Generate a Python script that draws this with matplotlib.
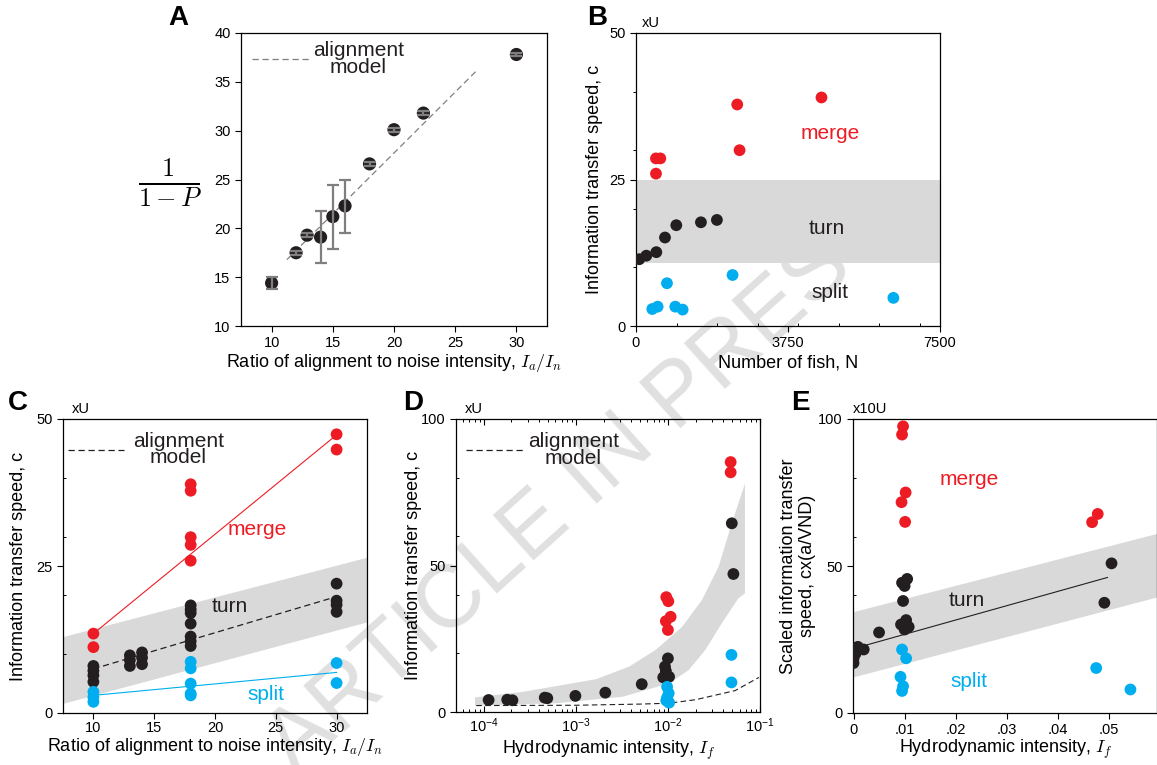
import numpy as np
import matplotlib
matplotlib.use("Agg")
import matplotlib.pyplot as plt
from matplotlib.ticker import FixedLocator, FixedFormatter, LogLocator, NullFormatter

plt.rcParams['font.family'] = ['Liberation Sans', 'DejaVu Sans']
plt.rcParams['mathtext.fontset'] = 'cm'
plt.rcParams['axes.linewidth'] = 0.9

RED = '#ed1c24'
BLUE = '#00aeef'
BLACK = '#231f20'
BAND = '#d9d9d9'
GREY = '#7f7f7f'

# ---------------- data ----------------
# A : 1/(1-P) vs Ia/In
a_x = [10, 12, 12.9, 14, 15, 16, 18, 20, 22.4, 30]
a_y = [14.4, 17.5, 19.3, 19.1, 21.2, 22.3, 26.6, 30.1, 31.8, 37.8]
a_err_lo = [0.6, 0.2, 0.2, 2.6, 3.3, 2.8, 0.2, 0.2, 0.2, 0.2]
a_err_hi = [0.6, 0.2, 0.2, 2.7, 3.2, 2.7, 0.2, 0.2, 0.2, 0.2]
a_model_x = [11.25, 26.8]
a_model_y = [16.8, 36.2]

# B : speed vs number of fish
b_merge_x = [493, 600, 493, 2497, 2555, 4576]
b_merge_y = [28.6, 28.6, 26.0, 37.8, 30.0, 39.0]
b_turn_x = [82, 255, 501, 715, 994, 1602, 1996]
b_turn_y = [11.4, 12.0, 12.6, 15.1, 17.2, 17.7, 18.1]
b_split_x = [764, 402, 534, 969, 1150, 2382, 6350]
b_split_y = [7.3, 2.9, 3.3, 3.3, 2.8, 8.7, 4.8]
b_band = [10.8, 24.9]

# C : speed vs Ia/In
c_merge_x = [10, 10, 18, 18, 18, 18, 18, 30, 30]
c_merge_y = [13.5, 11.2, 38.9, 37.8, 29.9, 28.6, 25.9, 47.4, 44.8]
c_turn_x = [10, 10, 10, 10, 13, 13, 13, 14, 14, 14,
            18, 18, 18, 18, 18, 18, 18, 30, 30, 30, 30]
c_turn_y = [8.0, 7.2, 6.4, 5.3, 9.8, 9.0, 8.0, 10.3, 9.4, 8.3,
            18.3, 17.6, 17.0, 15.2, 13.0, 12.2, 11.4, 22.0, 19.1, 18.4, 17.2]
c_split_x = [10, 10, 10, 18, 18, 18, 18, 18, 30, 30]
c_split_y = [3.6, 2.7, 1.9, 8.7, 7.6, 5.0, 3.3, 3.0, 8.5, 5.1]
c_merge_fit = ([10, 30], [13.5, 47.3])
c_split_fit = ([10, 30], [3.0, 6.9])
c_model = ([10, 30], [7.5, 19.8])
c_band_x = [7.5, 32.5]
c_band_lo = [1.65, 15.5]
c_band_hi = [13.0, 26.5]

# D : speed vs hydrodynamic intensity (log)
d_merge_x = [0.048, 0.048, 0.0096, 0.0101, 0.0107, 0.0095, 0.0100]
d_merge_y = [85.3, 81.8, 39.2, 37.8, 32.5, 31.0, 28.0]
d_turn_x = [1.13e-4, 1.8e-4, 2.05e-4, 4.6e-4, 4.9e-4, 9.9e-4, 2.09e-3, 5.2e-3,
            0.0100, 0.0093, 0.0095, 0.0089, 0.0103, 0.0494, 0.0514]
d_turn_y = [4.1, 4.2, 4.0, 4.9, 4.7, 5.5, 6.6, 9.5,
            18.3, 15.5, 14.0, 11.8, 12.0, 64.4, 47.1]
d_split_x = [0.0098, 0.0102, 0.0098, 0.0103, 0.0096, 0.049, 0.049]
d_split_y = [8.6, 6.4, 4.9, 3.2, 3.9, 19.5, 10.1]
d_band_hi_x = [8.05e-5, 2.7e-4, 1.66e-3, 3.8e-3, 7.37e-3, 1.43e-2, 2.34e-2, 3.55e-2, 4.94e-2, 6.87e-2]
d_band_hi_y = [5.0, 6.9, 11.2, 15.5, 21.2, 29.1, 38.2, 49.6, 64.4, 78.0]
d_band_lo_x = [8.05e-5, 6.17e-4, 3.23e-3, 1.03e-2, 1.68e-2, 2.55e-2, 3.85e-2, 5.82e-2, 6.87e-2]
d_band_lo_y = [2.2, 3.0, 5.2, 9.8, 14.3, 21.2, 30.3, 38.8, 40.5]
d_model_x = [8.3e-5, 1e-3, 5e-3, 1.03e-2, 2e-2, 5.37e-2, 0.0973]
d_model_y = [2.2, 2.3, 2.7, 3.0, 4.2, 7.3, 11.8]

# E : scaled speed vs hydrodynamic intensity
e_merge_x = [0.0097, 0.0095, 0.0102, 0.0094, 0.0101, 0.0478, 0.0467]
e_merge_y = [97.5, 94.7, 75.0, 71.7, 65.0, 67.7, 64.9]
e_turn_x = [0.0505, 0.0491, 0.0095, 0.0105, 0.0100, 0.0097, 0.0103, 0.0093, 0.0108,
            0.0100, 0.0050, 0.00085, 0.0020, 0.0004, 0.0000, 0.0000]
e_turn_y = [50.9, 37.5, 44.3, 45.6, 43.2, 38.1, 31.6, 30.1, 29.3,
            28.4, 27.4, 22.5, 21.6, 20.2, 18.5, 17.0]
e_split_x = [0.0095, 0.0103, 0.0092, 0.0097, 0.0095, 0.0475, 0.0542]
e_split_y = [21.6, 18.6, 12.3, 9.1, 7.5, 15.3, 8.0]
e_fit = ([0.0025, 0.0497], [23.1, 46.1])
e_band_x = [0.0, 0.0594]
e_band_lo = [12.3, 39.5]
e_band_hi = [34.5, 61.1]
e_xticks = [0, 0.01, 0.02, 0.03, 0.04, 0.05]
e_xticklabels = ['0', '.01', '.02', '.03', '.04', '.05']

# ---------------- figure ----------------
fig = plt.figure(figsize=(11.57, 7.65), dpi=100)

# watermark
fig.text(0.484, 0.339, 'ARTICLE IN PRES', rotation=42, fontsize=64,
         color='#e0e0e0', ha='center', va='center', zorder=-1)

W, H = 1157.0, 765.0


def make_ax(left, right, top, bottom):
    ax = fig.add_axes([left / W, (H - bottom) / H, (right - left) / W, (bottom - top) / H])
    ax.set_facecolor('none')
    ax.tick_params(labelsize=10.5, length=4, width=0.8, colors='black')
    ax.tick_params(which='minor', length=2.5, width=0.7)
    return ax


def labels(ax, xlabel, xl_y, ylabel=None, yl_x=None):
    # positions are label centres in axes fractions
    ax.set_xlabel(xlabel, fontsize=TF)
    ax.xaxis.label.set_va('center')
    ax.xaxis.set_label_coords(0.5, xl_y)
    if ylabel is not None:
        ax.set_ylabel(ylabel, fontsize=TF, linespacing=1.15)
        ax.yaxis.label.set_va('center')
        ax.yaxis.set_label_coords(yl_x, 0.5)


def dots(ax, x, y, color, s=72):
    ax.scatter(x, y, s=s, color=color, edgecolors='none', zorder=4)


def legend_model(ax, x0, x1, y, xt, color):
    ax.plot([x0, x1], [y, y], color=color, lw=0.9, dashes=(5, 3))
    ax.text(xt, y, 'alignment\nmodel', fontsize=15, ha='center', va='center',
            linespacing=0.85, color=BLACK)


TF = 13  # axis label size
AF = 15  # annotation size

# ---- A ----
axA = make_ax(241, 547, 33, 326)
axA.scatter(a_x, a_y, s=90, color=BLACK, edgecolors='none', zorder=3)
axA.errorbar(a_x, a_y, yerr=[a_err_lo, a_err_hi], fmt='none', ecolor=GREY,
             elinewidth=1.6, capsize=4, capthick=1.6, zorder=4)
axA.plot(a_model_x, a_model_y, color=GREY, lw=0.9, dashes=(5, 3), zorder=2)
legend_model(axA, 8.4, 13.15, 37.3, 17.1, GREY)
axA.set_xlim(7.5, 32.5)
axA.set_ylim(10, 40)
axA.set_xticks([10, 15, 20, 25, 30])
axA.set_yticks([10, 15, 20, 25, 30, 35, 40])
labels(axA, r'Ratio of alignment to noise intensity, $I_a/I_n$', -0.125)
axA.text(-0.232, 0.49, r'$\frac{1}{1-P}$', transform=axA.transAxes, fontsize=27,
         ha='center', va='center')
fig.text(178 / W, 1 - 18 / H, 'A', fontsize=20, fontweight='bold', ha='center', va='center')

# ---- B ----
axB = make_ax(636, 940, 33, 326)
axB.axhspan(b_band[0], b_band[1], color=BAND, lw=0, zorder=1)
dots(axB, b_merge_x, b_merge_y, RED)
dots(axB, b_turn_x, b_turn_y, BLACK)
dots(axB, b_split_x, b_split_y, BLUE)
axB.text(4790, 32.9, 'merge', color=RED, fontsize=AF, ha='center', va='center')
axB.text(4707, 16.7, 'turn', color=BLACK, fontsize=AF, ha='center', va='center')
axB.text(4790, 5.75, 'split', color=BLACK, fontsize=AF, ha='center', va='center')
axB.set_xlim(0, 7500)
axB.set_ylim(0, 50)
axB.set_xticks([0, 3750, 7500])
axB.set_xticks([1000, 2000, 3000, 4000, 5000, 6000, 7000], minor=True)
axB.set_yticks([0, 25, 50])
axB.set_yticks([10, 20, 30, 40], minor=True)
axB.tick_params(axis='x', which='minor', direction='in')
labels(axB, 'Number of fish, N', -0.125, 'Information transfer speed, c', -0.135)
axB.text(0.02, 1.035, 'xU', transform=axB.transAxes, fontsize=10.5, va='center')
fig.text(597 / W, 1 - 18 / H, 'B', fontsize=20, fontweight='bold', ha='center', va='center')

# ---- C ----
axC = make_ax(63, 367, 419, 713)
axC.fill_between(c_band_x, c_band_lo, c_band_hi, color=BAND, lw=0, zorder=1)
axC.plot(*c_merge_fit, color=RED, lw=0.8, zorder=2)
axC.plot(*c_split_fit, color=BLUE, lw=0.8, zorder=2)
axC.plot(*c_model, color=BLACK, lw=0.9, dashes=(5, 3), zorder=2)
dots(axC, c_merge_x, c_merge_y, RED)
dots(axC, c_turn_x, c_turn_y, BLACK)
dots(axC, c_split_x, c_split_y, BLUE)
legend_model(axC, 7.9, 12.5, 44.8, 17.0, BLACK)
axC.text(23.5, 31.2, 'merge', color=RED, fontsize=AF, ha='center', va='center')
axC.text(21.2, 18.1, 'turn', color=BLACK, fontsize=AF, ha='center', va='center')
axC.text(24.2, 3.2, 'split', color=BLUE, fontsize=AF, ha='center', va='center')
axC.set_xlim(7.5, 32.5)
axC.set_ylim(0, 50)
axC.set_xticks([10, 15, 20, 25, 30])
axC.set_yticks([0, 25, 50])
axC.set_yticks([10, 20, 30, 40], minor=True)
axC.tick_params(axis='y', which='minor', direction='in')
axC.tick_params(axis='x', pad=2)
labels(axC, r'Ratio of alignment to noise intensity, $I_a/I_n$', -0.117,
       'Information transfer speed, c', -0.148)
axC.text(0.03, 1.035, 'xU', transform=axC.transAxes, fontsize=10.5, va='center')
fig.text(18 / W, 1 - 403 / H, 'C', fontsize=20, fontweight='bold', ha='center', va='center')

# ---- D ----
axD = make_ax(456, 760, 419, 712)
axD.set_xscale('log')
axD.fill(list(d_band_hi_x) + list(d_band_lo_x[::-1]),
         list(d_band_hi_y) + list(d_band_lo_y[::-1]), color=BAND, lw=0, zorder=1)
axD.plot(d_model_x, d_model_y, color=BLACK, lw=0.8, dashes=(5, 3), zorder=2)
dots(axD, d_merge_x, d_merge_y, RED)
dots(axD, d_turn_x, d_turn_y, BLACK)
dots(axD, d_split_x, d_split_y, BLUE)
legend_model(axD, 6.4e-5, 2.76e-4, 89.5, 9.4e-4, BLACK)
axD.set_xlim(5e-5, 0.1)
axD.set_ylim(0, 100)
axD.xaxis.set_major_locator(LogLocator(base=10, numticks=10))
axD.xaxis.set_minor_locator(LogLocator(base=10, subs=np.arange(2, 10), numticks=20))
axD.xaxis.set_minor_formatter(NullFormatter())
axD.set_yticks([0, 50, 100])
axD.set_yticks([20, 40, 60, 80], minor=True)
axD.tick_params(axis='x', which='both', direction='in', top=True)
axD.tick_params(axis='y', which='minor', direction='in')
labels(axD, r'Hydrodynamic intensity, $I_f$', -0.132,
       'Information transfer speed, c', -0.141)
axD.text(0.03, 1.035, 'xU', transform=axD.transAxes, fontsize=10.5, va='center')
fig.text(413 / W, 1 - 403 / H, 'D', fontsize=20, fontweight='bold', ha='center', va='center')

# ---- E ----
axE = make_ax(853, 1157, 419, 713)
axE.fill_between(e_band_x, e_band_lo, e_band_hi, color=BAND, lw=0, zorder=1)
axE.plot(*e_fit, color=BLACK, lw=0.8, zorder=2)
dots(axE, e_merge_x, e_merge_y, RED)
dots(axE, e_turn_x, e_turn_y, BLACK)
dots(axE, e_split_x, e_split_y, BLUE)
axE.text(0.0227, 79.3, 'merge', color=RED, fontsize=AF, ha='center', va='center')
axE.text(0.0221, 38.4, 'turn', color=BLACK, fontsize=AF, ha='center', va='center')
axE.text(0.0226, 10.6, 'split', color=BLUE, fontsize=AF, ha='center', va='center')
axE.set_xlim(-0.0001, 0.0594)
axE.set_ylim(0, 100)
axE.xaxis.set_major_locator(FixedLocator(e_xticks))
axE.xaxis.set_major_formatter(FixedFormatter(e_xticklabels))
axE.set_yticks([0, 50, 100])
axE.set_yticks([20, 40, 60, 80], minor=True)
axE.tick_params(axis='y', which='minor', direction='in')
labels(axE, r'Hydrodynamic intensity, $I_f$', -0.125,
       'Scaled information transfer\nspeed, cx(a/VND)', -0.18)
axE.text(0.0, 1.035, 'x10U', transform=axE.transAxes, fontsize=10.5, va='center')
fig.text(800 / W, 1 - 403 / H, 'E', fontsize=20, fontweight='bold', ha='center', va='center')

fig.savefig('out.png', dpi=100)
